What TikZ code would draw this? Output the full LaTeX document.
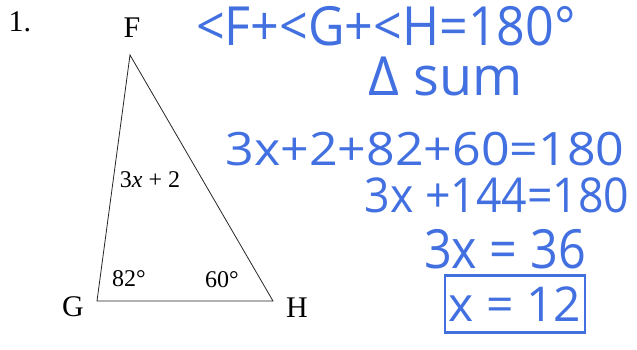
\documentclass[tikz,border=0pt]{standalone}
\usepackage{fontspec}
\setmainfont{Liberation Serif}
\newfontfamily\handfont{Open Sans}
\usepackage{tikz}
\usetikzlibrary{positioning, calc}
\definecolor{Ink}{RGB}{66, 112, 224}
\tikzset{
    side/.style={line width=0.8pt, black!85},
    plabel/.style={inner sep=0pt, font=\fontsize{30}{32}\selectfont},
    alabel/.style={inner sep=0pt, font=\fontsize{24}{26}\selectfont},
    hand/.style={
        inner sep=0pt, anchor=base, text=Ink, transform shape,
        font=\handfont\fontsize{54}{56}\selectfont
    },
    answer/.style={
        draw=Ink, line width=2.6pt, minimum width=140pt, minimum height=57pt,
        text=Ink, inner sep=0pt, font=\handfont\fontsize{48}{50}\selectfont
    },
}

\begin{document}
\begin{tikzpicture}[x=1pt, y=-1pt]

    \useasboundingbox (0,0) rectangle (637,349);

    % ── 三角形 ──────────────────────────────────────────
    \coordinate (vF) at (130,55);
    \coordinate (vG) at (97,301);
    \coordinate (vH) at (273,301);
    \draw [side] (vF) -- (vG) -- (vH) -- cycle;

    \node [plabel] (num) at (20,22) {1.};
    \node [plabel] (lF) at (132,28) {F};
    \node [plabel] (lG) at (73,307) {G};
    \node [plabel] (lH) at (297,308) {H};

    \node [alabel] (aF) at (150,180) {3\textit{x} + 2};
    \node [alabel] (aG) at (129,279) {82°};
    \node [alabel] (aH) at (222,280) {60°};

    % ── 手写解答 ────────────────────────────────────────
    \node [hand, xscale=0.93] (n1) at (386,45) {<F+<G+<H=180°};
    \node [hand] (n2) at (446,95) {Δ sum};
    \node [hand, font=\handfont\fontsize{46}{48}\selectfont, xscale=1.09]
        (n3) at (425,165) {3x+2+82+60=180};
    \node [hand, font=\handfont\fontsize{48}{50}\selectfont, xscale=0.93]
        (n4) at (497,212) {3x +144=180};
    \node [hand, xscale=0.9] (n5) at (505,268) {3x = 36};

    \node [answer] (n6) at (515,304) {x = 12};

\end{tikzpicture}
\end{document}
